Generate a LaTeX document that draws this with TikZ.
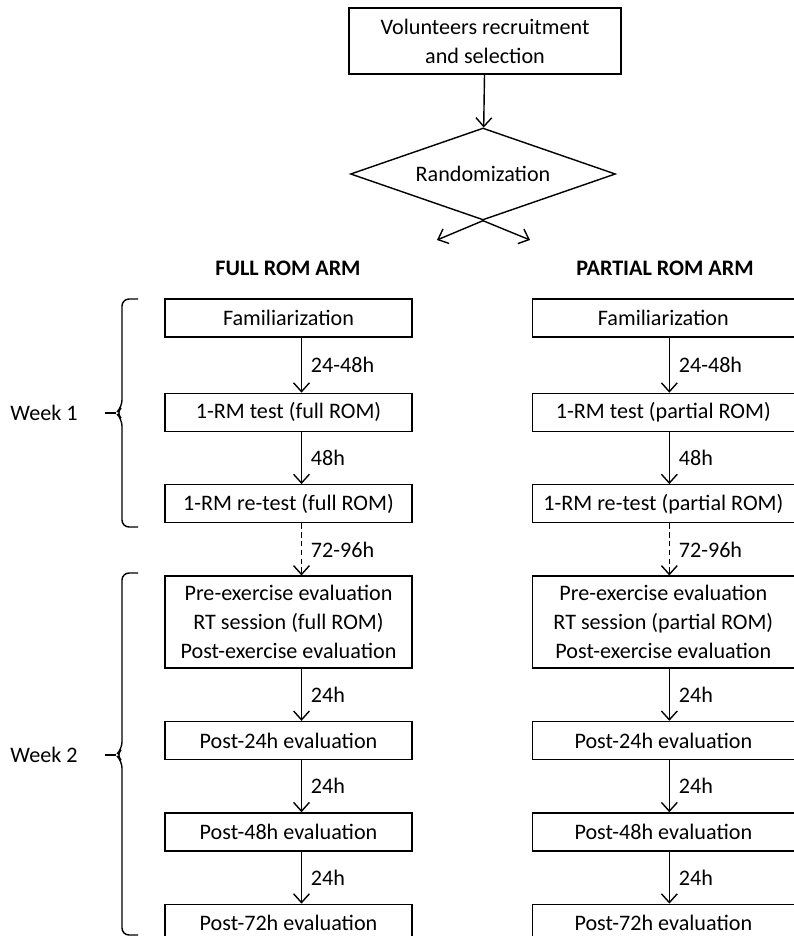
\documentclass[tikz,border=0pt]{standalone}
\usepackage{fontspec}
\setmainfont{Carlito}
\usetikzlibrary{arrows.meta,shapes.geometric,positioning}

\begin{document}
\begin{tikzpicture}[x=0.02cm,y=-0.02cm,>={Straight Barb[length=5pt,width=9pt]},
                    line width=0.8pt,node distance=1.04cm,
                    font=\fontsize{12.6}{16.4}\selectfont,
                    box/.style={draw,rectangle,minimum height=0.76cm,inner sep=2pt,align=center},
                    fbox/.style={box,minimum width=4.94cm},
                    pbox/.style={box,minimum width=5.24cm},
                    hdr/.style={font=\fontsize{12.6}{16.4}\selectfont\bfseries},
                    lbl/.style={right,inner sep=5pt},
                    wbrace/.style={rounded corners=4pt}]

  \useasboundingbox (0,0) rectangle (794,936);

  \node [draw, minimum width=5.44cm, minimum height=1.32cm, align=center] (top) at (485,41) {Volunteers recruitment\\and selection};
  \node [draw, diamond, aspect=2.88, minimum width=5.3cm, minimum height=1.84cm, inner sep=0pt] (rand) at (483,174) {Randomization};
  \coordinate (toF) at (437,240);
  \coordinate (toP) at (530,240);

  \node [hdr] (fh) at (288,268) {FULL ROM ARM};
  \node [hdr] (ph) at (665,268) {PARTIAL ROM ARM};

  % full ROM arm
  \node [fbox] (f1) at (288.5,318) {Familiarization};
  \node [fbox] (f2) [below=1.1cm of f1] {1-RM test (full ROM)};
  \node [fbox] (f3) [below=of f2] {1-RM re-test (full ROM)};
  \node [fbox, minimum height=1.84cm] (f4) [below=of f3] {Pre-exercise evaluation\\RT session (full ROM)\\Post-exercise evaluation};
  \node [fbox] (f5) [below=of f4] {Post-24h evaluation};
  \node [fbox] (f6) [below=of f5] {Post-48h evaluation};
  \node [fbox] (f7) [below=of f6] {Post-72h evaluation};

  % partial ROM arm
  \node [pbox] (p1) [right=2.38cm of f1] {Familiarization};
  \node [pbox] (p2) [right=2.38cm of f2] {1-RM test (partial ROM)};
  \node [pbox] (p3) [right=2.38cm of f3] {1-RM re-test (partial ROM)};
  \node [pbox, minimum height=1.84cm] (p4) [right=2.38cm of f4] {Pre-exercise evaluation\\RT session (partial ROM)\\Post-exercise evaluation};
  \node [pbox] (p5) [right=2.38cm of f5] {Post-24h evaluation};
  \node [pbox] (p6) [right=2.38cm of f6] {Post-48h evaluation};
  \node [pbox] (p7) [right=2.38cm of f7] {Post-72h evaluation};

  \node (w1) at (44,413) {Week 1};
  \node (w2) at (44,755) {Week 2};

  \path [->] (top) edge (rand);
  \path [->] (rand.south) edge (toF);
  \path [->] (rand.south) edge (toP);

  \path [->] ([xshift=0.26cm]f1.south) edge node[lbl] {24-48h} ([xshift=0.26cm]f2.north);
  \path [->] ([xshift=0.26cm]f2.south) edge node[lbl] {48h} ([xshift=0.26cm]f3.north);
  \path [->, dash pattern=on 3pt off 2pt] ([xshift=0.26cm]f3.south) edge node[lbl] {72-96h} ([xshift=0.26cm]f4.north);
  \path [->] ([xshift=0.26cm]f4.south) edge node[lbl] {24h} ([xshift=0.26cm]f5.north);
  \path [->] ([xshift=0.26cm]f5.south) edge node[lbl] {24h} ([xshift=0.26cm]f6.north);
  \path [->] ([xshift=0.26cm]f6.south) edge node[lbl] {24h} ([xshift=0.26cm]f7.north);

  \path [->] ([xshift=0.12cm]p1.south) edge node[lbl] {24-48h} ([xshift=0.12cm]p2.north);
  \path [->] ([xshift=0.12cm]p2.south) edge node[lbl] {48h} ([xshift=0.12cm]p3.north);
  \path [->, dash pattern=on 3pt off 2pt] ([xshift=0.12cm]p3.south) edge node[lbl] {72-96h} ([xshift=0.12cm]p4.north);
  \path [->] ([xshift=0.12cm]p4.south) edge node[lbl] {24h} ([xshift=0.12cm]p5.north);
  \path [->] ([xshift=0.12cm]p5.south) edge node[lbl] {24h} ([xshift=0.12cm]p6.north);
  \path [->] ([xshift=0.12cm]p6.south) edge node[lbl] {24h} ([xshift=0.12cm]p7.north);

  % week braces
  \draw [wbrace] (138,299) -- (122,299) -- (122,407) -- (116,413) -- (122,419) -- (122,527) -- (138,527);
  \draw (116,413) -- (105,413);
  \draw [wbrace] (138,573) -- (122,573) -- (122,749) -- (116,755) -- (122,761) -- (122,935) -- (138,935);
  \draw (116,755) -- (105,755);
\end{tikzpicture}
\end{document}
